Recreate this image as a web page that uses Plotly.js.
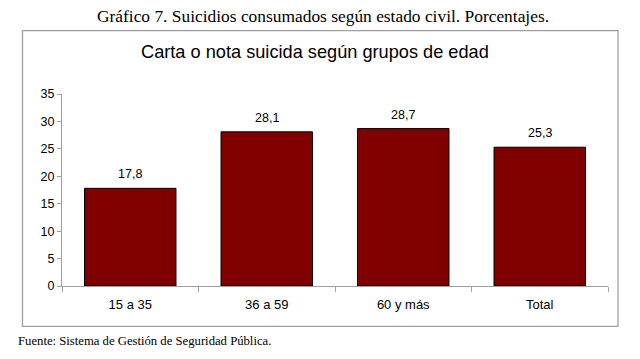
<!DOCTYPE html>
<html>
<head>
<meta charset="utf-8">
<script src="https://cdn.plot.ly/plotly-3.0.1.min.js"></script>
<style>html,body{margin:0;padding:0;background:#fff;}#chart{width:640px;height:359px;}</style>
</head>
<body>
<div id="chart"></div>
<script>
const categories = ["15 a 35", "36 a 59", "60 y más", "Total"];
const values = [17.8, 28.1, 28.7, 25.3];
const valueLabels = ["17,8", "28,1", "28,7", "25,3"];
const yTicks = [0, 5, 10, 15, 20, 25, 30, 35];

const L = 62, R = 32, T = 94, B = 72.5, W = 640, H = 359;
const pw = W - L - R, ph = H - T - B;
const px = x => (x - L) / pw;
const py = y => (H - B - y) / ph;
const sans = "Liberation Sans, Arial, sans-serif";
const serif = "Liberation Serif, Times New Roman, serif";

const trace = {
  type: "bar",
  x: categories,
  y: values,
  marker: {color: "#800000", line: {color: "#000", width: 1}},
  hoverinfo: "none"
};

const valueAnnotations = categories.map((c, i) => ({
  x: c, y: values[i], xref: "x", yref: "y",
  text: valueLabels[i], showarrow: false,
  xanchor: "center", yanchor: "middle", yshift: 14,
  font: {family: sans, size: 12.5, color: "#000"}
}));

const layout = {
  width: W, height: H,
  margin: {l: L, r: R, t: T, b: B},
  paper_bgcolor: "#fff", plot_bgcolor: "#fff",
  showlegend: false,
  bargap: 0.33,
  title: {
    text: "Gráfico 7. Suicidios consumados según estado civil. Porcentajes.",
    font: {family: serif, size: 17.4, color: "#000"},
    x: 323/640, xanchor: "center", xref: "container",
    y: 1 - 16/359, yanchor: "middle", yref: "container"
  },
  xaxis: {
    type: "category",
    showline: true, linecolor: "#a0a0a0", linewidth: 1,
    ticks: "outside", tickson: "boundaries", ticklen: 5, tickcolor: "#a0a0a0",
    ticklabelstandoff: 6,
    showgrid: false, zeroline: false,
    tickfont: {family: sans, size: 13, color: "#000"}
  },
  yaxis: {
    range: [0, 35],
    tickvals: yTicks,
    ticktext: yTicks.map(String),
    showline: true, linecolor: "#a0a0a0", linewidth: 1,
    ticks: "outside", ticklen: 4, tickcolor: "#a0a0a0",
    showgrid: false, zeroline: false,
    tickfont: {family: sans, size: 12.5, color: "#000"}
  },
  shapes: [{
    type: "rect", xref: "paper", yref: "paper",
    x0: px(22.5), x1: px(618), y0: py(327), y1: py(30.5),
    line: {color: "#a0a0a0", width: 1.3}, fillcolor: "rgba(0,0,0,0)", layer: "below"
  }],
  annotations: valueAnnotations.concat([
    {
      text: "Carta o nota suicida según grupos de edad",
      xref: "paper", yref: "paper", x: px(315), y: py(52),
      xanchor: "center", yanchor: "middle", showarrow: false,
      font: {family: sans, size: 18.2, color: "#000"}
    },
    {
      text: "Fuente: Sistema de Gestión de Seguridad Pública.",
      xref: "paper", yref: "paper", x: px(15.5), y: py(342),
      xanchor: "left", yanchor: "middle", showarrow: false,
      font: {family: serif, size: 12.7, color: "#000"}
    }
  ])
};

Plotly.newPlot("chart", [trace], layout, {displayModeBar: false, staticPlot: true});
</script>
</body>
</html>
